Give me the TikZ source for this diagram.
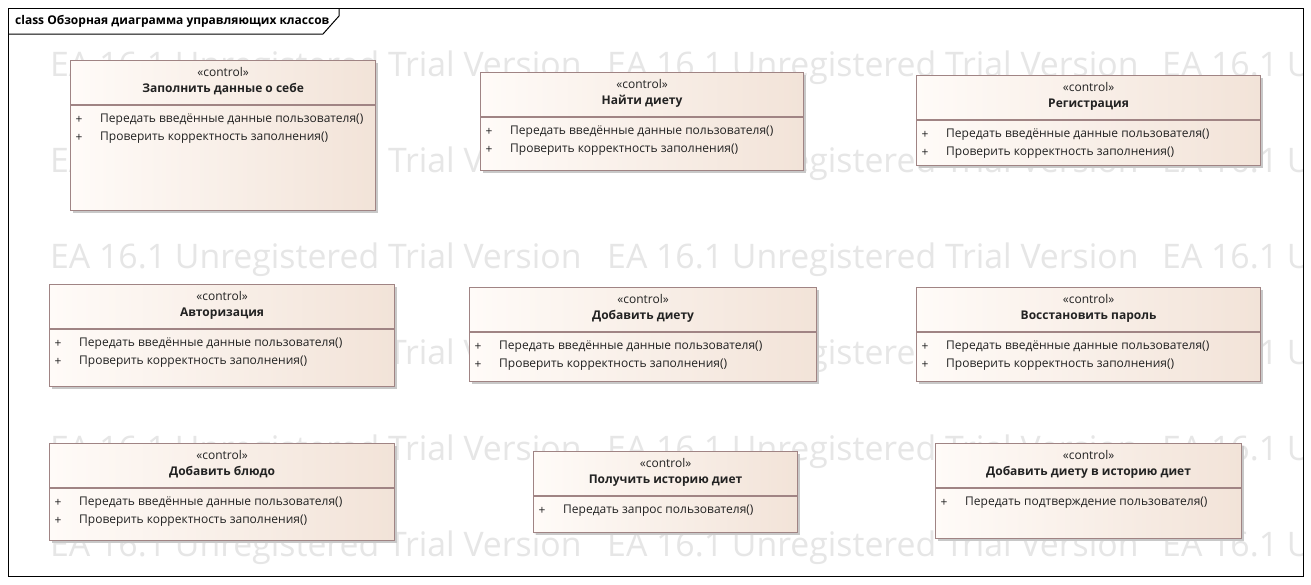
\documentclass[tikz,border=0pt]{standalone}
\usepackage{fontspec}
\setmainfont{Open Sans}
\usetikzlibrary{calc}
\definecolor{wmgray}{HTML}{E6E6E6}
\definecolor{boxborder}{HTML}{A08484}
\definecolor{boxleft}{HTML}{FFFBF8}
\definecolor{boxright}{HTML}{F2E3D8}
\definecolor{shadowc}{HTML}{C8C8C8}
\definecolor{txt}{HTML}{222222}
\tikzset{
  wmtext/.style={anchor=west, inner sep=0pt, text=wmgray, font=\fontsize{33.8}{38}\selectfont},
  cbox/.style={draw=boxborder, line width=1.1pt, rectangle, inner sep=0pt, left color=boxleft, right color=boxright},
  cline/.style={draw=boxborder, line width=1.1pt},
  stereo/.style={inner sep=0pt, text=txt, font=\fontsize{12}{14}\selectfont},
  cname/.style={inner sep=0pt, text=txt, font=\fontsize{12}{14}\selectfont\bfseries},
  optext/.style={inner sep=0pt, text=txt, font=\fontsize{12}{14}\selectfont},
  frameline/.style={draw=black, line width=1pt},
}
\newcommand{\ctrlbox}[6]{%
  \fill[shadowc] (#2+3,#3+3) rectangle (#4+3,#5+3);
  \node[cbox, anchor=north west, minimum width=#4-#2, minimum height=#5-#3] (#1) at (#2,#3) {};
  \node[stereo] (#1-st) at ($(#1.north)+(0,11.5)$) {«control»};
  \node[cname] (#1-nm) at ($(#1.north)+(0,29.5)$) {#6};
  \draw[cline] ($(#1.north west)+(0,45)$) -- ($(#1.north east)+(0,45)$);
}
\newcommand{\opline}[4]{%
  \node[optext] (#1-p#2) at ($(#1.north west)+(9,#3)$) {+};
  \node[optext, anchor=west] (#1-o#2) at ($(#1.north west)+(30,#3)$) {#4};
}
\begin{document}
\begin{tikzpicture}[x=1pt,y=-1pt]
\useasboundingbox (0,0) rectangle (1311,584);
\fill[white] (0,0) rectangle (1311,584);
% watermark
\begin{scope}
\clip (8,8) rectangle (1303,576);
\foreach \yy in {68,164,260,356,452,548}{
  \foreach \xx in {50,607,1162}{
    \node[wmtext] (wm-\xx-\yy) at (\xx,\yy) {EA 16.1 Unregistered Trial Version};
  }
}
\end{scope}
% frame
\draw[frameline] (8,8) rectangle (1303,576);
\draw[frameline] (8,34) -- (323,34) -- (339,16) -- (339,8);
\node[anchor=west, inner sep=0pt, font=\fontsize{12}{14}\selectfont\bfseries] (title) at (15,21) {class Обзорная диаграмма управляющих классов};
% boxes
\ctrlbox{b1}{70}{60}{375}{210}{Заполнить данные о себе}
\opline{b1}{1}{60}{Передать введённые данные пользователя()}
\opline{b1}{2}{78}{Проверить корректность заполнения()}
\ctrlbox{b2}{480}{72}{803}{170}{Найти диету}
\opline{b2}{1}{60}{Передать введённые данные пользователя()}
\opline{b2}{2}{78}{Проверить корректность заполнения()}
\ctrlbox{b3}{916}{75}{1260}{165}{Регистрация}
\opline{b3}{1}{60}{Передать введённые данные пользователя()}
\opline{b3}{2}{78}{Проверить корректность заполнения()}
\ctrlbox{b4}{49}{284}{394}{386}{Авторизация}
\opline{b4}{1}{60}{Передать введённые данные пользователя()}
\opline{b4}{2}{78}{Проверить корректность заполнения()}
\ctrlbox{b5}{469}{287}{816}{381}{Добавить диету}
\opline{b5}{1}{60}{Передать введённые данные пользователя()}
\opline{b5}{2}{78}{Проверить корректность заполнения()}
\ctrlbox{b6}{916}{287}{1260}{381}{Восстановить пароль}
\opline{b6}{1}{60}{Передать введённые данные пользователя()}
\opline{b6}{2}{78}{Проверить корректность заполнения()}
\ctrlbox{b7}{49}{443}{394}{540}{Добавить блюдо}
\opline{b7}{1}{60}{Передать введённые данные пользователя()}
\opline{b7}{2}{78}{Проверить корректность заполнения()}
\ctrlbox{b8}{533}{451}{797}{532}{Получить историю диет}
\opline{b8}{1}{60}{Передать запрос пользователя()}
\ctrlbox{b9}{935}{443}{1241}{538}{Добавить диету в историю диет}
\opline{b9}{1}{60}{Передать подтверждение пользователя()}
\end{tikzpicture}
\end{document}
